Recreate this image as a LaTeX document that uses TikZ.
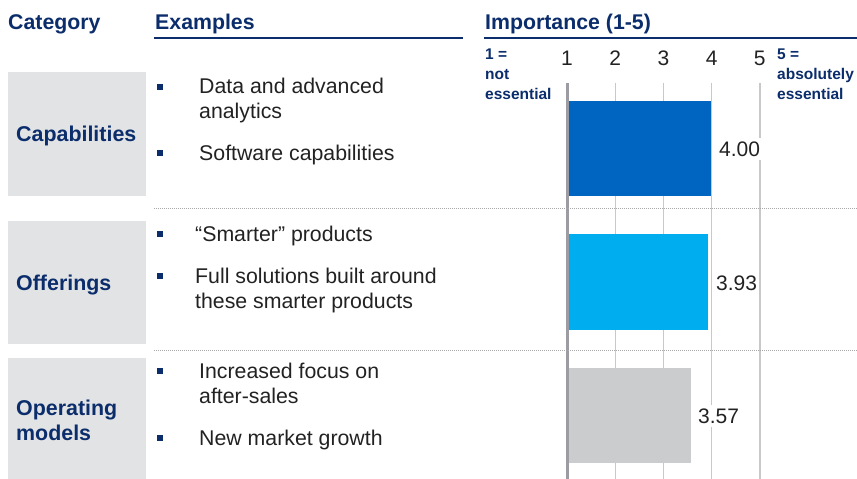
\documentclass[tikz,border=0pt]{standalone}
\usepackage{fontspec}
\setmainfont{Liberation Sans}
\definecolor{navy}{HTML}{0B2D6B}
\definecolor{boxgray}{HTML}{E2E3E5}
\definecolor{barblue}{HTML}{0064C1}
\definecolor{barcyan}{HTML}{00AEEF}
\definecolor{bargray}{HTML}{CBCCCE}
\definecolor{gridgray}{HTML}{C8C8C8}
\definecolor{axisgray}{HTML}{9C9CA2}
\definecolor{txt}{HTML}{222222}
\definecolor{sepgray}{HTML}{A8A8A8}
\tikzset{
  hdr/.style={font=\fontsize{21.3}{25}\selectfont\bfseries, text=navy, inner sep=0pt, anchor=base west},
  catlabel/.style={font=\fontsize{21.4}{25}\selectfont\bfseries, text=navy, inner sep=0pt, anchor=base west, align=left},
  item/.style={font=\fontsize{21.3}{24.8}\selectfont, text=txt, inner sep=0pt, anchor=base west, align=left},
  small/.style={font=\fontsize{15.5}{19.9}\selectfont\bfseries, text=navy, inner sep=0pt, anchor=base west, align=left},
  ticklbl/.style={font=\fontsize{21}{24}\selectfont, text=txt, inner sep=0pt, anchor=base},
  vallbl/.style={font=\fontsize{21}{24}\selectfont, text=txt, fill=white, inner xsep=1pt, inner ysep=4pt, anchor=west},
  bulletsq/.style={fill=navy},
  sep/.style={sepgray, line width=0.9pt, dash pattern=on 1pt off 1pt},
  uline/.style={navy, line width=1.6pt},
  gridline/.style={gridgray, line width=1.4pt},
}
\begin{document}
\begin{tikzpicture}[x=1pt,y=-1pt]
\useasboundingbox (0,0) rectangle (857,479);
% headers
\node[hdr] (hcat) at (8,29.3) {Category};
\node[hdr] (hex) at (155,29.3) {Examples};
\node[hdr] (himp) at (485,29.3) {Importance (1-5)};
\coordinate (u1a) at (154,38); \coordinate (u1b) at (463,38);
\coordinate (u2a) at (484,38); \coordinate (u2b) at (857,38);
\draw[uline] (u1a) -- (u1b);
\draw[uline] (u2a) -- (u2b);
% category boxes
\fill[boxgray] (8,72) rectangle (146,196);
\fill[boxgray] (8,221) rectangle (146,344);
\fill[boxgray] (8,358) rectangle (146,479);
\node[catlabel] (ccap) at (16,141.7) {Capabilities};
\node[catlabel] (coff) at (16,290.7) {Offerings};
\node[catlabel] (cop) at (16,440) {Operating\\models};
% separators
\coordinate (s1a) at (154,208); \coordinate (s1b) at (857,208);
\coordinate (s2a) at (154,350); \coordinate (s2b) at (857,350);
% grid
\foreach \v/\x in {2/615.2,3/663.4,4/711.6,5/759.8}{
  \coordinate (gt\v) at (\x,83); \coordinate (gb\v) at (\x,479);
  \draw[gridline] (gt\v) -- (gb\v);
}
\coordinate (gt1) at (567.5,83); \coordinate (gb1) at (567.5,479);
% bars
\fill[barblue] (568,101) rectangle (711,196);
\fill[barcyan] (568,234) rectangle (708,330);
\fill[bargray] (568,368) rectangle (690.5,463);
\draw[axisgray, line width=2.6pt] (gt1) -- (gb1);
\draw[sep] (s1a) -- (s1b);
\draw[sep] (s2a) -- (s2b);
% value labels
\node[vallbl] (v1) at (718,149) {4.00};
\node[vallbl] (v2) at (715,283) {3.93};
\node[vallbl] (v3) at (697,416) {3.57};
% tick labels
\foreach \v/\x in {1/567,2/615.2,3/663.4,4/711.6,5/759.8}{
  \node[ticklbl] (t\v) at (\x,65) {\v};
}
\node[small] (lo) at (485,99) {1 =\\not\\essential};
\node[small] (hi) at (777,99) {5 =\\absolutely\\essential};
% bullets
\foreach \y [count=\i] in {87,153,234,276,371,438}{
  \fill[bulletsq] (156.5,\y-3) rectangle (162.5,\y+3);
}
\node[item] (e1) at (199,118) {Data and advanced\\analytics};
\node[item] (e2) at (199,160) {Software capabilities};
\node[item] (e3) at (195,241.7) {“Smarter” products};
\node[item] (e4) at (195,308.3) {Full solutions built around\\these smarter products};
\node[item] (e5) at (199,403.3) {Increased focus on\\after-sales};
\node[item] (e6) at (199,445) {New market growth};
\end{tikzpicture}
\end{document}
